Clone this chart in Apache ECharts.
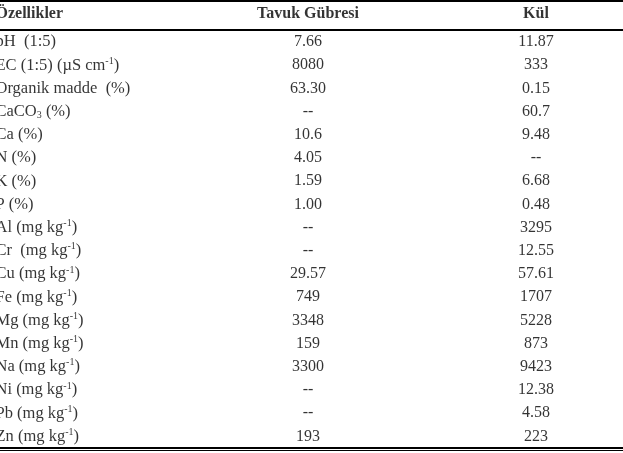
<!DOCTYPE html>
<html><head><meta charset="utf-8">
<script src="https://cdn.jsdelivr.net/npm/echarts@6/dist/echarts.min.js"></script>
<style>html,body{margin:0;padding:0;background:#fff}#c{width:623px;height:453px}</style>
</head><body><div id="c"></div>
<script>
// ---- data ----
const HEADERS = ['Özellikler', 'Tavuk Gübresi', 'Kül'];
const PROPERTIES = [
  'pH  (1:5)',
  'EC (1:5) (µS cm{sup|-1})',
  'Organik madde  (%)',
  'CaCO{sub|3} (%)',
  'Ca (%)',
  'N (%)',
  'K (%)',
  'P (%)',
  'Al (mg kg{sup|-1})',
  'Cr  (mg kg{sup|-1})',
  'Cu (mg kg{sup|-1})',
  'Fe (mg kg{sup|-1})',
  'Mg (mg kg{sup|-1})',
  'Mn (mg kg{sup|-1})',
  'Na (mg kg{sup|-1})',
  'Ni (mg kg{sup|-1})',
  'Pb (mg kg{sup|-1})',
  'Zn (mg kg{sup|-1})'
];
const TAVUK = ['7.66','8080','63.30','--','10.6','4.05','1.59','1.00','--','--','29.57','749','3348','159','3300','--','--','193'];
const KUL = ['11.87','333','0.15','60.7','9.48','--','6.68','0.48','3295','12.55','57.61','1707','5228','873','9423','12.38','4.58','223'];

// ---- layout ----
const W = 623;
const COL_X = [-4.5, 308, 536];
const FONT = '"Liberation Serif","Times New Roman",serif';
const TXT = '#000';
const rich = {
  sup: { fontSize: 10, lineHeight: 10, verticalAlign: 'top', fontFamily: FONT, color: TXT },
  sub: { fontSize: 10, lineHeight: 10, verticalAlign: 'bottom', fontFamily: FONT, color: TXT }
};
const rowIdx = PROPERTIES.map((_, i) => i);

function colSeries(values, col, align, size) {
  return {
    type: 'scatter', xAxisIndex: 0, yAxisIndex: 0, symbolSize: 0, silent: true, clip: false,
    data: values.map((v, i) => [COL_X[col], i]),
    label: {
      show: true, position: 'inside', align: align, verticalAlign: 'middle',
      fontFamily: FONT, fontSize: size, lineHeight: 18, color: TXT, rich: rich,
      formatter: p => values[p.dataIndex]
    }
  };
}

const chart = echarts.init(document.getElementById('c'), null, { renderer: 'canvas' });
chart.setOption({
  animation: false,
  backgroundColor: '#fff',
  grid: [
    { left: 0, right: 0, top: 30.4, bottom: 5 },
    { left: 0, right: 0, top: 0, height: 28 }
  ],
  xAxis: [
    { gridIndex: 0, type: 'value', min: 0, max: W, show: false },
    { gridIndex: 1, type: 'value', min: 0, max: W, show: false }
  ],
  yAxis: [
    { gridIndex: 0, type: 'category', data: rowIdx, inverse: true, show: false },
    { gridIndex: 1, type: 'category', data: [0], show: false }
  ],
  series: [
    colSeries(PROPERTIES, 0, 'left', 16.5),
    colSeries(TAVUK, 1, 'center', 16),
    colSeries(KUL, 2, 'center', 16),
    {
      type: 'scatter', xAxisIndex: 1, yAxisIndex: 1, symbolSize: 0, silent: true, clip: false,
      data: HEADERS.map((h, i) => ({ value: [COL_X[i], 0], label: { align: i === 0 ? 'left' : 'center' } })),
      label: {
        show: true, position: 'inside', verticalAlign: 'middle',
        fontFamily: FONT, fontSize: 16, fontWeight: 'bold', color: TXT,
        formatter: p => HEADERS[p.dataIndex]
      }
    }
  ],
  graphic: [
    { type: 'rect', shape: { x: 0, y: 0, width: W, height: 2 }, style: { fill: '#000' }, silent: true },
    { type: 'rect', shape: { x: 0, y: 29, width: W, height: 2 }, style: { fill: '#000' }, silent: true },
    { type: 'rect', shape: { x: 0, y: 447, width: W, height: 2 }, style: { fill: '#000' }, silent: true },
    { type: 'rect', shape: { x: 0, y: 450, width: W, height: 1 }, style: { fill: '#000' }, silent: true }
  ]
});
</script>
</body></html>
